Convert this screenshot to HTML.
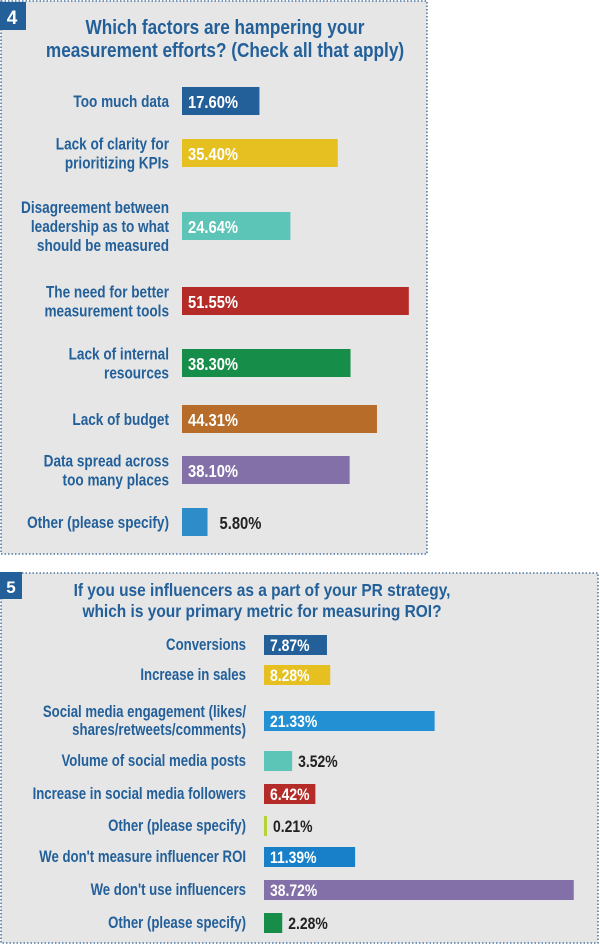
<!DOCTYPE html>
<html><head><meta charset="utf-8"><style>
html,body{margin:0;padding:0;background:#fff;width:600px;height:946px;overflow:hidden}
svg{display:block}
text{font-family:"Liberation Sans",sans-serif;font-weight:bold}
</style></head><body>
<svg id="s" width="600" height="946" xmlns="http://www.w3.org/2000/svg">
<rect x="1" y="1" width="426" height="553" fill="#e6e6e6" stroke="#2a5f95" stroke-width="1.3" stroke-dasharray="1.5 2"/>
<rect x="0" y="2" width="26" height="28" fill="#23609a"/>
<text x="12" y="24" fill="#fff" font-size="19" text-anchor="middle">4</text>
<g transform="translate(225,0) scale(0.86,1)"><text x="0" y="34" fill="#23609a" font-size="20" text-anchor="middle">Which factors are hampering your</text>
<text x="0" y="57" fill="#23609a" font-size="20" text-anchor="middle">measurement efforts? (Check all that apply)</text></g>
<rect x="1" y="573" width="597" height="370" fill="#e6e6e6" stroke="#2a5f95" stroke-width="1.3" stroke-dasharray="1.5 2"/>
<rect x="0" y="572" width="22" height="27" fill="#23609a"/>
<text x="11" y="593" fill="#fff" font-size="17" text-anchor="middle">5</text>
<g transform="translate(262,0) scale(0.86,1)"><text x="0" y="596" fill="#23609a" font-size="18" text-anchor="middle">If you use influencers as a part of your PR strategy,</text>
<text x="0" y="617" fill="#23609a" font-size="18" text-anchor="middle">which is your primary metric for measuring ROI?</text></g>
<g id="c1"></g>
<g id="c2"></g>
</svg>
<script>
const q4Labels=[["Too much data"],["Lack of clarity for","prioritizing KPIs"],["Disagreement between","leadership as to what","should be measured"],["The need for better","measurement tools"],["Lack of internal","resources"],["Lack of budget"],["Data spread across","too many places"],["Other (please specify)"]];
const q4Values=[17.60,35.40,24.64,51.55,38.30,44.31,38.10,5.80];
const q4Colors=["#23609a","#e6c020","#5cc5b7","#b52b27","#168d48","#b86c2a","#8470a8","#2e8dc8"];
const q5Labels=["Conversions","Increase in sales","Social media engagement (likes/|shares/retweets/comments)","Volume of social media posts","Increase in social media followers","Other (please specify)","We don't measure influencer ROI","We don't use influencers","Other (please specify)"];
const q5Values=[7.87,8.28,21.33,3.52,6.42,0.21,11.39,38.72,2.28];
const q5Colors=["#23609a","#e6c020","#2290d2","#5cc5b7","#b52b27","#b5d334","#1780c8","#8470a8","#168d48"];
const NS="http://www.w3.org/2000/svg";
function mk(t,a,p){const e=document.createElementNS(NS,t);for(const k in a)e.setAttribute(k,a[k]);p.appendChild(e);return e;}
function txt(p,x,y,s,size,fill,anchor,sx){const g=mk('g',{transform:'translate('+x+','+y+') scale('+sx+',1)'},p);const t=mk('text',{x:0,y:0,fill:fill,'font-size':size,'text-anchor':anchor},g);t.textContent=s;return t;}
const q4Rows=[101,153,226,301,363,419,470,522];
const q5Rows=[645,675,721,761,794,826,857,890,923];
function x1(v){return v*4.4;}
function x2(v){return v*8.0;}
const c1=document.getElementById('c1');
q4Values.forEach((v,i)=>{
  const cy=q4Rows[i],w=Math.max(x1(v),2);
  const r=mk('rect',{x:182,y:cy-14,width:w,height:28,fill:q4Colors[i]},c1);
  
  
  const inside=w>60;
  const t=txt(c1,inside?188:182+w+12,cy+7,v.toFixed(2)+'%',18,inside?'#fff':'#222','start',0.82);
  
  
  const L=q4Labels[i],lh=19,y0=cy+6-(L.length-1)*lh/2;
  L.forEach((s,j)=>{const l=txt(c1,169,y0+j*lh,s,17,'#23609a','end',0.8);
    
    });
});
const c2=document.getElementById('c2');
q5Values.forEach((v,i)=>{
  const cy=q5Rows[i],w=Math.max(x2(v),3);
  const r=mk('rect',{x:264,y:cy-10,width:w,height:20,fill:q5Colors[i]},c2);
  
  
  const inside=w>50;
  const t=txt(c2,inside?270:264+w+6,cy+6,v.toFixed(2)+'%',17,inside?'#fff':'#222','start',0.82);
  
  
  const L=q5Labels[i].split('|'),lh=18,y0=cy+5-(L.length-1)*lh/2;
  L.forEach((s,j)=>{const l=txt(c2,246,y0+j*lh,s,16.5,'#23609a','end',0.8);
    
    });
});
</script>
</body></html>
